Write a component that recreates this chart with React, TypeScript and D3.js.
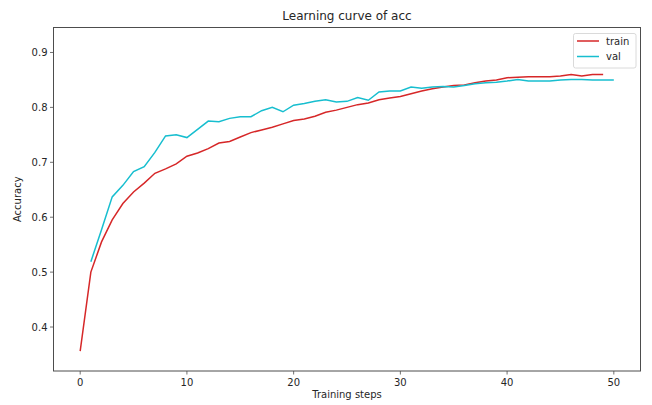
import React from "react";
import * as d3 from "d3";

const trainSteps = d3.range(0, 50);
const trainAcc = [
  0.356, 0.500, 0.555, 0.595, 0.625, 0.646, 0.662, 0.680, 0.688, 0.697,
  0.711, 0.717, 0.725, 0.735, 0.738, 0.746, 0.754, 0.759, 0.764, 0.770,
  0.776, 0.779, 0.784, 0.791, 0.795, 0.800, 0.805, 0.808, 0.814, 0.817,
  0.820, 0.825, 0.830, 0.834, 0.837, 0.840, 0.841, 0.845, 0.848, 0.850,
  0.854, 0.855, 0.856, 0.856, 0.856, 0.857, 0.860, 0.857, 0.860, 0.860,
];
const valSteps = d3.range(1, 51);
const valAcc = [
  0.519, 0.577, 0.637, 0.658, 0.683, 0.692, 0.718, 0.748, 0.750, 0.745,
  0.760, 0.775, 0.774, 0.780, 0.783, 0.783, 0.794, 0.800, 0.792, 0.804,
  0.807, 0.811, 0.814, 0.810, 0.811, 0.818, 0.813, 0.828, 0.830, 0.830,
  0.837, 0.835, 0.837, 0.838, 0.837, 0.840, 0.843, 0.845, 0.846, 0.848,
  0.851, 0.848, 0.848, 0.848, 0.850, 0.851, 0.851, 0.850, 0.850, 0.850,
];
const xTicks = [0, 10, 20, 30, 40, 50];
const yTicks = [0.4, 0.5, 0.6, 0.7, 0.8, 0.9];
const seriesNames = ["train", "val"];
const seriesColors = ["#d62728", "#17becf"];

export default function App() {
  const W = 652, H = 405;
  const left = 53.5, right = 640.5, top = 27.5, bottom = 371;
  const x = d3.scaleLinear().domain([-2.5, 52.5]).range([left, right]);
  const y = d3.scaleLinear().domain([0.3199, 0.9455]).range([bottom, top]);
  const line = d3.line<[number, number]>().x((d) => x(d[0])).y((d) => y(d[1]));
  const trainPts = trainSteps.map((s, i) => [s, trainAcc[i]] as [number, number]);
  const valPts = valSteps.map((s, i) => [s, valAcc[i]] as [number, number]);
  const font = "DejaVu Sans, sans-serif";
  const txt = "#262626";
  const axc = "#4d4d4d";
  return (
    <svg width={W} height={H} style={{ position: "absolute", left: 0, top: 0, background: "#fff" }} fontFamily={font}>
      <rect x={0} y={0} width={W} height={H} fill="#fff" />
      <text x={(left + right) / 2} y={20} textAnchor="middle" fontSize={12} fill={txt}>Learning curve of acc</text>
      <path d={line(trainPts) || ""} fill="none" stroke={seriesColors[0]} strokeWidth={1.5} />
      <path d={line(valPts) || ""} fill="none" stroke={seriesColors[1]} strokeWidth={1.5} />
      <rect x={left} y={top} width={right - left} height={bottom - top} fill="none" stroke={axc} strokeWidth={1} />
      {xTicks.map((t) => (
        <g key={"x" + t}>
          <line x1={x(t)} x2={x(t)} y1={bottom} y2={bottom + 3.5} stroke={axc} strokeWidth={0.8} />
          <text x={x(t)} y={bottom + 15} textAnchor="middle" fontSize={10} fill={txt}>{t}</text>
        </g>
      ))}
      {yTicks.map((t) => (
        <g key={"y" + t}>
          <line x1={left - 3.5} x2={left} y1={y(t)} y2={y(t)} stroke={axc} strokeWidth={0.8} />
          <text x={left - 6} y={y(t) + 3.5} textAnchor="end" fontSize={10} fill={txt}>{t.toFixed(1)}</text>
        </g>
      ))}
      <text x={(left + right) / 2} y={bottom + 27} textAnchor="middle" fontSize={10} fill={txt}>Training steps</text>
      <text transform={`translate(${21},${(top + bottom) / 2}) rotate(-90)`} textAnchor="middle" fontSize={10} fill={txt}>Accuracy</text>
      <g>
        <rect x={573.5} y={33.5} width={62.5} height={34.5} rx={2} fill="#fff" fillOpacity={0.8} stroke="#d0d0d0" strokeWidth={0.8} />
        {seriesNames.map((n, i) => (
          <g key={n}>
            <line x1={577} x2={599} y1={41 + i * 15.5} y2={41 + i * 15.5} stroke={seriesColors[i]} strokeWidth={1.5} />
            <text x={606} y={44.5 + i * 15.5} fontSize={10} fill={txt}>{n}</text>
          </g>
        ))}
      </g>
    </svg>
  );
}
